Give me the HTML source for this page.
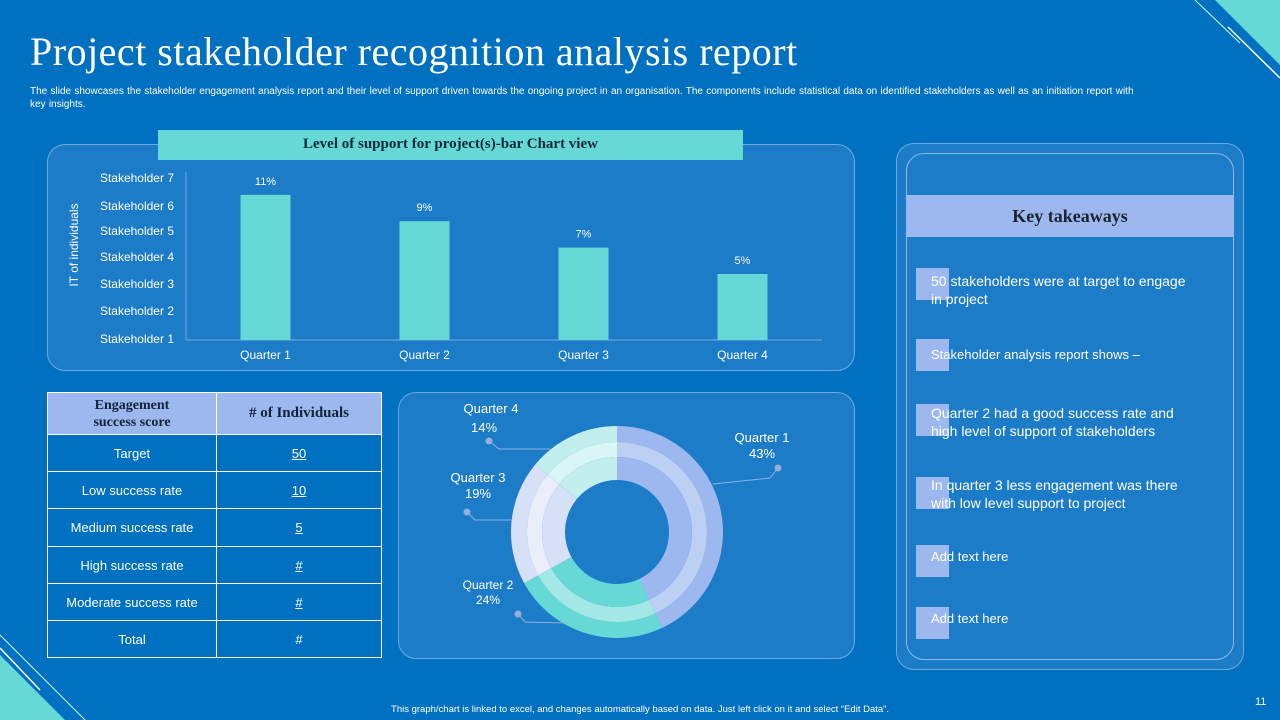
<!DOCTYPE html>
<html><head><meta charset="utf-8"><style>
body{margin:0;width:1280px;height:720px;overflow:hidden;background:#0070C0;font-family:"Liberation Sans",sans-serif;color:#fff;position:relative}
.abs{position:absolute}
.panel{position:absolute;background:#1C7CC8;border:1px solid #6FA8E0;border-radius:18px;box-sizing:border-box}
table{border-collapse:collapse}
td{border:1px solid #fff;text-align:center;font-size:13px;color:#fff}
.tk{position:absolute;left:931px;font-size:14px;line-height:18px;width:268px}
.sq{position:absolute;left:916px;width:33px;height:32px;background:#9DB8EE}
</style></head><body>
<svg class="abs" style="left:0;top:0" width="1280" height="720">
<polygon points="1215,0 1280,0 1280,65" fill="#66D9D6"/>
<line x1="1195" y1="0" x2="1240" y2="43" stroke="#cfe" stroke-width="1"/>
<line x1="1228" y1="27" x2="1280" y2="78" stroke="#fff" stroke-width="1.5"/>
<polygon points="0,655 0,720 65,720" fill="#66D9D6"/>
<line x1="0" y1="635" x2="85" y2="720" stroke="#cfe" stroke-width="1"/>
<line x1="0" y1="648" x2="40" y2="690" stroke="#fff" stroke-width="1.5"/>
</svg>
<div class="abs" style="left:30px;top:28px;font-family:'Liberation Serif',serif;font-size:40px;letter-spacing:0.5px">Project stakeholder recognition analysis report</div>
<div class="abs" style="left:30px;top:85px;width:1200px;font-size:10px;line-height:13px;word-spacing:0.5px">The slide showcases the stakeholder engagement analysis report and their level of support driven towards the ongoing project in an organisation. The components include statistical data on identified stakeholders as well as an initiation report with<br>key insights.</div>

<div class="panel" style="left:47px;top:144px;width:808px;height:227px"></div>
<div class="abs" style="left:158px;top:130px;width:585px;height:30px;background:#66D9D6;color:#0a2a3a;font-family:'Liberation Serif',serif;font-weight:bold;font-size:15px;text-align:center;line-height:29px">Level of support for project(s)-bar Chart view</div>
<svg class="abs" style="left:0;top:0" width="860" height="380" id="bar"></svg>

<div class="panel" style="left:398px;top:392px;width:457px;height:267px"></div>
<svg class="abs" style="left:0;top:0" width="860" height="670" id="donut"></svg>

<table class="abs" style="left:47px;top:392px;width:335px">
<tr style="height:42px"><td style="width:166px;background:#9DB8EE;color:#10243a;font-family:'Liberation Serif',serif;font-weight:bold;font-size:14px;line-height:17px">Engagement<br>success score</td><td style="background:#9DB8EE;color:#10243a;font-family:'Liberation Serif',serif;font-weight:bold;font-size:15px">#  of Individuals</td></tr>
<tr style="height:37px"><td>Target</td><td style="text-decoration:underline">50</td></tr>
<tr style="height:37px"><td>Low success rate</td><td style="text-decoration:underline">10</td></tr>
<tr style="height:38px"><td>Medium success rate</td><td style="text-decoration:underline">5</td></tr>
<tr style="height:37px"><td>High success rate</td><td style="text-decoration:underline">#</td></tr>
<tr style="height:37px"><td>Moderate success rate</td><td style="text-decoration:underline">#</td></tr>
<tr style="height:37px"><td>Total</td><td>#</td></tr>
</table>

<div class="panel" style="left:896px;top:143px;width:348px;height:527px"></div>
<div class="panel" style="left:906px;top:153px;width:328px;height:507px;border-color:#8DB8E8"></div>
<div class="abs" style="left:906px;top:195px;width:328px;height:42px;background:#9DB8EE;color:#1a2230;font-family:'Liberation Serif',serif;font-weight:bold;font-size:18px;text-align:center;line-height:42px">Key takeaways</div>
<div class="sq" style="top:268px"></div><div class="tk" style="top:272px">50 stakeholders were at target to engage in project</div>
<div class="sq" style="top:339px"></div><div class="tk" style="top:346px;font-size:13px">Stakeholder analysis report shows –</div>
<div class="sq" style="top:404px"></div><div class="tk" style="top:404px">Quarter 2 had a good success rate and high level of support of stakeholders</div>
<div class="sq" style="top:477px"></div><div class="tk" style="top:476px">In quarter 3 less engagement was there with low level support to project</div>
<div class="sq" style="top:545px"></div><div class="tk" style="top:548px;font-size:13px">Add text here</div>
<div class="sq" style="top:607px"></div><div class="tk" style="top:610px;font-size:13px">Add text here</div>

<div class="abs" style="left:0;width:1280px;top:704px;text-align:center;font-size:9.5px">This graph/chart is linked to excel, and changes automatically based on data. Just left click on it and select “Edit Data”.</div>
<div class="abs" style="left:1255px;top:696px;font-size:11px">11</div>

<script>
const barCategories=["Quarter 1","Quarter 2","Quarter 3","Quarter 4"];
const barValues=[11,9,7,5];
const barLabels=["11%","9%","7%","5%"];
const yTickLabels=["Stakeholder 1","Stakeholder 2","Stakeholder 3","Stakeholder 4","Stakeholder 5","Stakeholder 6","Stakeholder 7"];
const yTickPos=[339,311,284,257,231,206,178];
const donutCategories=["Quarter 1","Quarter 2","Quarter 3","Quarter 4"];
const donutValues=[43,24,19,14];

const NS="http://www.w3.org/2000/svg";
function mk(svg,tag,attrs,text){const e=document.createElementNS(NS,tag);for(const k in attrs)e.setAttribute(k,attrs[k]);if(text!==undefined)e.textContent=text;svg.appendChild(e);return e;}
const bar=document.getElementById('bar');
const x0=186,x1=822,base=340,pxPer=13.2;
const band=(x1-x0)/barCategories.length;
const xc=i=>x0+band*(i+0.5);
const ys=v=>base-v*pxPer;
mk(bar,'line',{x1:x0,y1:172,x2:x0,y2:base,stroke:'#6FA8E0'});
mk(bar,'line',{x1:x0,y1:base,x2:x1,y2:base,stroke:'#6FA8E0'});
yTickLabels.forEach((t,i)=>{const e=mk(bar,'text',{x:174,y:yTickPos[i]+4,'text-anchor':'end','font-size':12,fill:'#fff'},t);

});
const yt=mk(bar,'text',{x:78,y:245,'text-anchor':'middle','font-size':12,fill:'#fff',transform:'rotate(-90 78 245)'},'IT of individuals');


barValues.forEach((v,i)=>{
 const r=mk(bar,'rect',{x:xc(i)-25,y:ys(v),width:50,height:base-ys(v),fill:'#66D9D6'});
 
 
 const l=mk(bar,'text',{x:xc(i),y:ys(v)-10,'text-anchor':'middle','font-size':11,fill:'#fff'},barLabels[i]);
 
 
 const c=mk(bar,'text',{x:xc(i),y:359,'text-anchor':'middle','font-size':12,fill:'#fff'},barCategories[i]);
 
 
});
const dn=document.getElementById('donut');
const cx=617,cy=532;
const rings=[[106,90,0],[90,75,1],[75,52,0]];
const cols=[['#9DB8EE','#BCD0F4'],['#66D9D6','#A3E8E5'],['#D6E0F7','#E9EEFA'],['#C3EEEE','#D9F5F5']];
const total=donutValues.reduce((a,b)=>a+b,0);
function arc(ro,ri,a0,a1){const p=(r,a)=>[cx+r*Math.sin(a),cy-r*Math.cos(a)];const lg=a1-a0>Math.PI?1:0;
const A=p(ro,a0),B=p(ro,a1),C=p(ri,a1),D=p(ri,a0);
return `M${A}A${ro},${ro} 0 ${lg} 1 ${B}L${C}A${ri},${ri} 0 ${lg} 0 ${D}Z`;}
let acc=0;
donutValues.forEach((v,i)=>{const a0=acc/total*2*Math.PI;acc+=v;const a1=acc/total*2*Math.PI;
 rings.forEach(([ro,ri,k])=>{const p=mk(dn,'path',{d:arc(ro,ri,a0,a1),fill:cols[i][k]});
 
 });
});
const lbl=[{t:[762,442],p:[762,458],dot:[778,468],ln:[[770,478],[713,484]]},
{t:[488,589],p:[488,604],dot:[518,614],ln:[[525,622],[568,623]]},
{t:[478,482],p:[478,498],dot:[467,512],ln:[[475,520],[512,520]]},
{t:[491,413],p:[484,432],dot:[489,441],ln:[[499,449],[550,449]]}];
donutValues.forEach((v,i)=>{const L=lbl[i];
 const a=mk(dn,'text',{x:L.t[0],y:L.t[1],'text-anchor':'middle','font-size':i==1?12:13,fill:'#fff'},donutCategories[i]);
 
 
 const b=mk(dn,'text',{x:L.p[0],y:L.p[1],'text-anchor':'middle','font-size':i==1?12:13,fill:'#fff'},v+'%');
 
 
 mk(dn,'circle',{cx:L.dot[0],cy:L.dot[1],r:3.5,fill:'#8FB0E0'});
 mk(dn,'polyline',{points:`${L.dot} ${L.ln[0]} ${L.ln[1]}`,fill:'none',stroke:'#8FB0E0'});
});
</script>
</body></html>
